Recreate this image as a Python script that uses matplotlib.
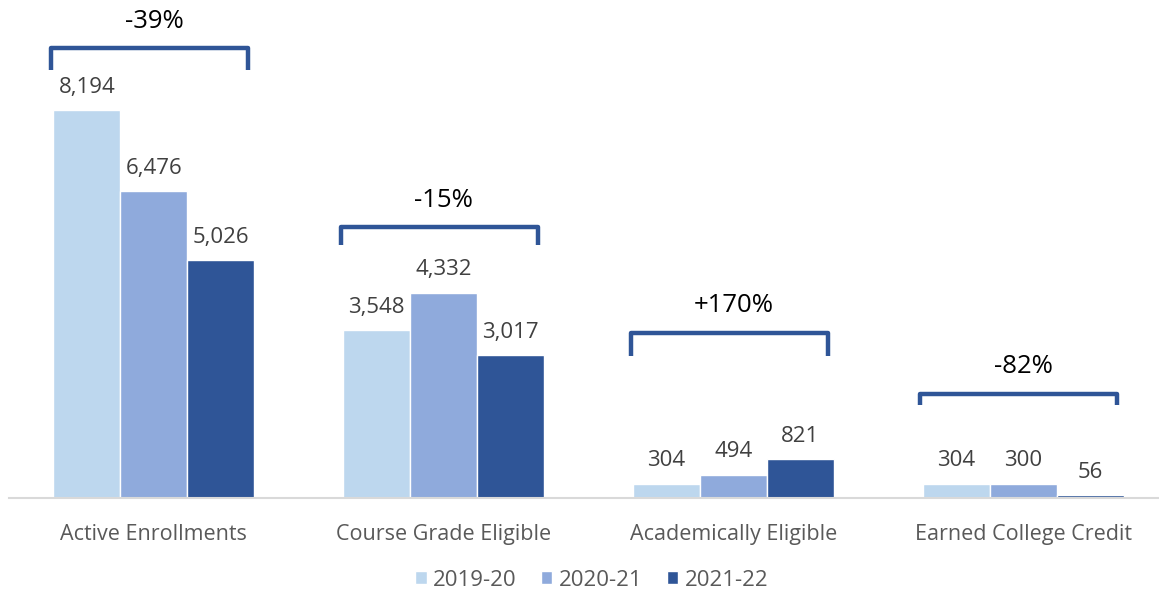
import matplotlib.pyplot as plt
import numpy as np

plt.rcParams["font.family"] = ["Open Sans", "DejaVu Sans"]

categories = ["Active Enrollments", "Course Grade Eligible",
              "Academically Eligible", "Earned College Credit"]
years = ["2019-20", "2020-21", "2021-22"]
values_2019 = [8194, 3548, 304, 304]
values_2020 = [6476, 4332, 494, 300]
values_2021 = [5026, 3017, 821, 56]
pct_change = ["-39%", "-15%", "+170%", "-82%"]
bracket_top = [9500, 5720, 3490, 2200]
bracket_bottom = [9040, 5340, 3000, 1960]

colors = ["#BDD7EE", "#8FAADC", "#2F5597"]
series = [values_2019, values_2020, values_2021]

fig = plt.figure(figsize=(11.59, 5.90), dpi=100)
ax = fig.add_axes([9 / 1159, 92 / 590, 1.0, 498 / 590])

x = np.arange(len(categories))
w = 0.231
for i, (vals, c, lab) in enumerate(zip(series, colors, years)):
    pos = x + (i - 1) * w
    ax.bar(pos, vals, width=w, color=c, edgecolor="white", linewidth=1, label=lab)
    for p, v in zip(pos, vals):
        ax.annotate(f"{v:,}", (p, v), xytext=(0, 16.5), textcoords="offset points",
                    ha="center", va="center", fontsize=16, color="#404040")

# brackets with % change over each group
for xi, top, bot, txt in zip(x, bracket_top, bracket_bottom, pct_change):
    l, r = xi - 0.355, xi + 0.325
    ax.plot([l, l, r, r], [bot, top, top, bot], color="#2F5597", lw=3.2,
            solid_joinstyle="round", solid_capstyle="butt")
    ax.annotate(txt, (xi, top), xytext=(0, 19.5), textcoords="offset points",
                ha="center", va="center", fontsize=18.5, color="black")

ax.set_xlim(-0.5, 3.5)
ax.set_ylim(0, 10517)
ax.set_yticks([])
ax.set_xticks(x)
ax.set_xticklabels(categories, fontsize=15.5, color="#595959")
ax.tick_params(axis="x", length=0, pad=19)
for s in ["top", "right", "left"]:
    ax.spines[s].set_visible(False)
ax.spines["bottom"].set_color("#D9D9D9")
ax.spines["bottom"].set_linewidth(1.5)

fig.legend(loc="center", bbox_to_anchor=(592 / 1159, 1 - 580 / 590), ncol=3,
           frameon=False, fontsize=16, handlelength=0.5, handleheight=0.5,
           handletextpad=0.3, columnspacing=1.1, labelcolor="#595959")

fig.savefig("out.png", dpi=100)
